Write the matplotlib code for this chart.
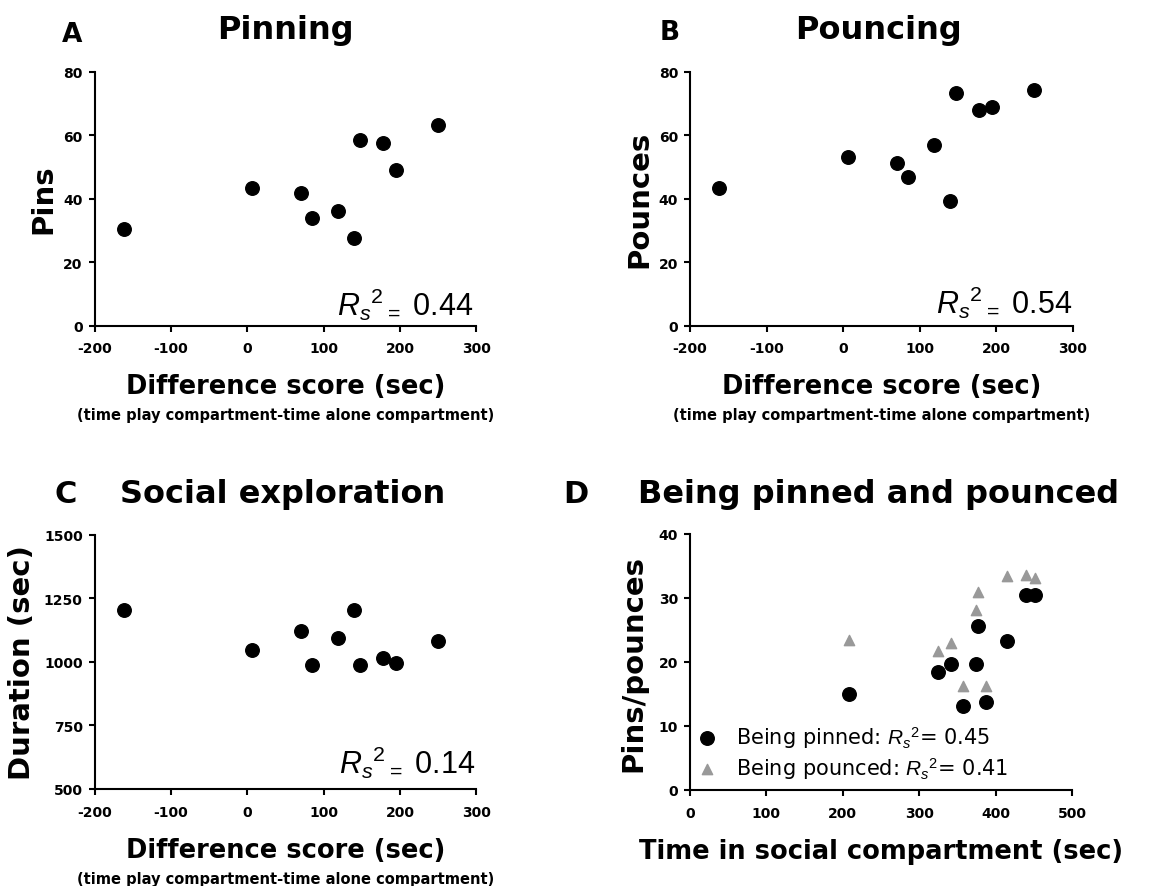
import numpy as np
import matplotlib
matplotlib.use('Agg')
import matplotlib.pyplot as plt

plt.rcParams['font.family'] = 'DejaVu Sans'
plt.rcParams['axes.unicode_minus'] = False
plt.rcParams['mathtext.fontset'] = 'custom'
plt.rcParams['mathtext.rm'] = 'Liberation Sans'
plt.rcParams['mathtext.it'] = 'Liberation Sans:italic'
plt.rcParams['mathtext.bf'] = 'Liberation Sans:bold'

# dados
diff_score = [-162, 6, 70, 85, 119, 140, 147, 178, 194, 249]   # time play - time alone (sec)
pins = [30.4, 43.4, 41.7, 33.9, 36.0, 27.7, 58.4, 57.4, 48.9, 63.1]
pounces = [43.4, 53.2, 51.3, 46.9, 56.8, 39.3, 73.4, 67.8, 69.0, 74.2]
social_expl = [1202, 1047, 1121, 988, 1095, 1204, 988, 1014, 994, 1080]

time_social = [208, 324, 342, 357, 375, 377, 388, 415, 440, 451]
being_pinned = [15.0, 18.5, 19.7, 13.1, 19.7, 25.6, 13.7, 23.3, 30.4, 30.4]
being_pounced = [23.4, 21.7, 23.0, 16.2, 28.1, 30.9, 16.3, 33.5, 33.6, 33.2]

diff_ticks = [-200, -100, 0, 100, 200, 300]
W, H = 1168, 887

fig = plt.figure(figsize=(W / 100, H / 100), dpi=100)


def add_ax(left, top, right, bottom):
    # posicao em pixels -> fracao da figura
    return fig.add_axes([left / W, 1 - bottom / H, (right - left) / W, (bottom - top) / H])


def style(ax, xlim, xticks, ylim, yticks):
    ax.set_xlim(xlim)
    ax.set_ylim(ylim)
    ax.set_xticks(xticks)
    ax.set_yticks(yticks)
    for s in ['top', 'right']:
        ax.spines[s].set_visible(False)
    for s in ['left', 'bottom']:
        ax.spines[s].set_linewidth(1.5)
    ax.tick_params(width=1.5, length=4.5, labelsize=10, direction='out')
    ax.tick_params(axis='x', pad=7)
    ax.tick_params(axis='y', pad=4)
    for lab in ax.get_xticklabels() + ax.get_yticklabels():
        lab.set_fontweight('bold')


def labels(ax, xlab, ylab, ylab_x, sub=None):
    ax.set_xlabel(xlab, fontsize=18.5, fontweight='bold')
    ax.xaxis.set_label_coords(0.5, -0.266)
    ax.xaxis.label.set_va('baseline')
    ax.set_ylabel(ylab, fontsize=21, fontweight='bold')
    ax.yaxis.set_label_coords(ylab_x, 0.5)
    ax.yaxis.label.set_va('center')
    if sub:
        ax.text(0.5, -0.368, sub, transform=ax.transAxes, ha='center', va='baseline',
                fontsize=10.5, fontweight='bold')


def rs2(ax, val, x, y):
    ax.text(x, y, r'$R_s{}^2{}_{=}$ ' + val, transform=ax.transAxes, ha='right',
            va='baseline', fontsize=22, family='Liberation Sans')


sub_txt = '(time play compartment-time alone compartment)'

# A - Pinning
axA = add_ax(94.5, 72.7, 476.5, 326.5)
axA.scatter(diff_score, pins, s=95, c='black', clip_on=False, zorder=3)
style(axA, (-200, 300), diff_ticks, (0, 80), [0, 20, 40, 60, 80])
labels(axA, 'Difference score (sec)', 'Pins', -0.135, sub_txt)
rs2(axA, '0.44', 0.992, 0.042)

# B - Pouncing
axB = add_ax(690, 72.7, 1072.7, 326.5)
axB.scatter(diff_score, pounces, s=95, c='black', clip_on=False, zorder=3)
style(axB, (-200, 300), diff_ticks, (0, 80), [0, 20, 40, 60, 80])
labels(axB, 'Difference score (sec)', 'Pounces', -0.131, sub_txt)
rs2(axB, '0.54', 1.0, 0.049)

# C - Social exploration
axC = add_ax(94.5, 535.5, 476.5, 790)
axC.scatter(diff_score, social_expl, s=95, c='black', clip_on=False, zorder=3)
style(axC, (-200, 300), diff_ticks, (500, 1500), [500, 750, 1000, 1250, 1500])
labels(axC, 'Difference score (sec)', 'Duration (sec)', -0.19, sub_txt)
rs2(axC, '0.14', 0.996, 0.063)

# D - Being pinned and pounced
axD = add_ax(690, 535, 1072, 791)
axD.scatter(time_social, being_pounced, s=55, marker='^', c='#999999', clip_on=False,
            zorder=3, label=r'Being pounced: $R_s{}^2$= 0.41')
axD.scatter(time_social, being_pinned, s=95, c='black', clip_on=False, zorder=4,
            label=r'Being pinned: $R_s{}^2$= 0.45')
style(axD, (0, 500), [0, 100, 200, 300, 400, 500], (0, 40), [0, 10, 20, 30, 40])
labels(axD, 'Time in social compartment (sec)', 'Pins/pounces', -0.148)
h, l = axD.get_legend_handles_labels()
axD.legend(h[::-1], l[::-1], loc='lower left', bbox_to_anchor=(0.022, 0.035),
           frameon=False, fontsize=15, handlelength=0.8, handletextpad=1.0,
           borderpad=0, borderaxespad=0, labelspacing=0.25)

# titulos e letras dos paineis
fig.text(285 / W, 1 - 39.3 / H, 'Pinning', ha='center', va='baseline', fontsize=23, fontweight='bold')
fig.text(879 / W, 1 - 39.3 / H, 'Pouncing', ha='center', va='baseline', fontsize=23, fontweight='bold')
fig.text(283 / W, 1 - 502.7 / H, 'Social exploration', ha='center', va='baseline', fontsize=23, fontweight='bold')
fig.text(879 / W, 1 - 502.7 / H, 'Being pinned and pounced', ha='center', va='baseline', fontsize=23, fontweight='bold')
fig.text(61.5 / W, 1 - 41.7 / H, 'A', ha='left', va='baseline', fontsize=19, fontweight='bold')
fig.text(660 / W, 1 - 39.5 / H, 'B', ha='left', va='baseline', fontsize=19, fontweight='bold')
fig.text(54 / W, 1 - 503 / H, 'C', ha='left', va='baseline', fontsize=22, fontweight='bold')
fig.text(563 / W, 1 - 503 / H, 'D', ha='left', va='baseline', fontsize=22, fontweight='bold')

fig.savefig('out.png', dpi=100)
